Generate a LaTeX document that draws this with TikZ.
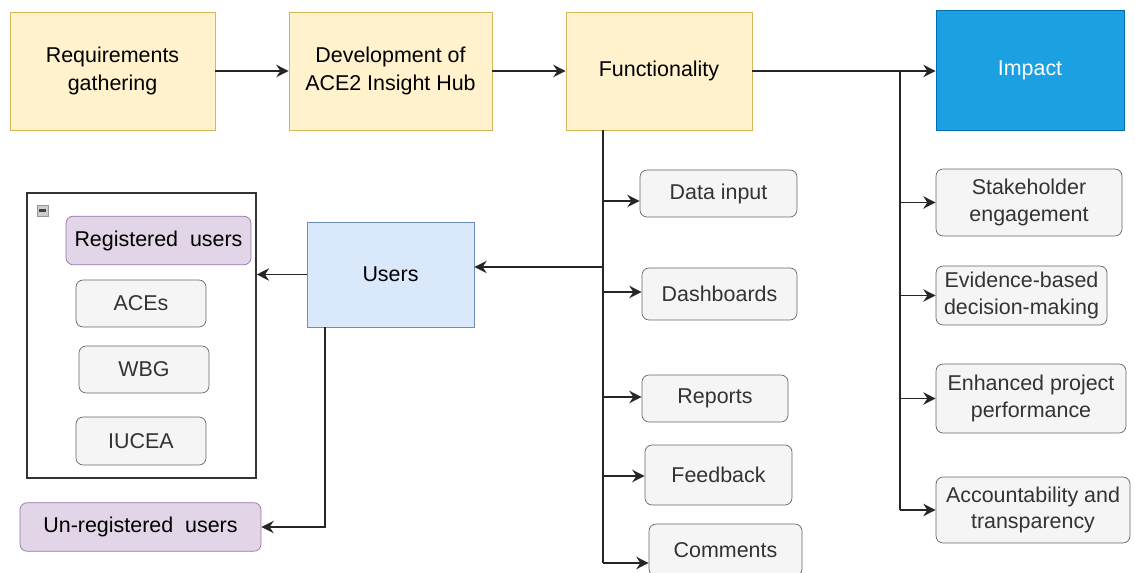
\documentclass[tikz,border=0pt]{standalone}
\usepackage{fontspec}
\setmainfont{Liberation Sans}
\usetikzlibrary{arrows.meta,positioning}

\begin{document}
\begin{tikzpicture}[x=0.02cm,y=-0.02cm,
  stage/.style={draw=stageline,fill=stagefill,minimum height=2.36cm,align=center,font=\fontsize{12.2}{15.5}\selectfont},
  item/.style={draw=itemline,fill=itemfill,rounded corners=4pt,align=center,text=itemtext,font=\fontsize{12.2}{15}\selectfont},
  who/.style={draw=wholine,fill=whofill,rounded corners=4pt,minimum height=0.97cm,font=\fontsize{12.2}{15}\selectfont},
  arr/.style={-{Stealth[length=7pt,width=7pt]},line width=1pt,draw=black!85}]
\definecolor{stagefill}{HTML}{FFF2CC}
\definecolor{stageline}{HTML}{D6B656}
\definecolor{itemfill}{HTML}{F5F5F5}
\definecolor{itemline}{HTML}{666666}
\definecolor{itemtext}{HTML}{333333}
\definecolor{whofill}{HTML}{E1D5E7}
\definecolor{wholine}{HTML}{9673A6}
\definecolor{usersfill}{HTML}{DAE8FC}
\definecolor{usersline}{HTML}{6C8EBF}
\definecolor{impactfill}{HTML}{1BA1E2}
\definecolor{impactline}{HTML}{006EAF}
\useasboundingbox (0,0) rectangle (1135,573);

% top row
\node [stage,minimum width=4.1cm] (req) at (112.5,71) {Requirements\\gathering};
\node [stage,minimum width=4.06cm] (dev) at (390.5,71) {Development of\\ACE2 Insight Hub};
\node [stage,minimum width=3.72cm] (func) at (659,71) {Functionality};
\node [draw=impactline,fill=impactfill,text=white,minimum width=3.76cm,minimum height=2.4cm,
  font=\fontsize{12.2}{15}\selectfont] (impact) at (1030,70) {Impact};
\draw [arr] (req) -- (dev);
\draw [arr] (dev) -- (func);
\draw [arr] (func.east) -- (impact.west |- func.east);

% functionality branches
\coordinate (fbus) at (603,130);
\foreach \nm/\txt/\w/\h/\cx/\cy/\by in {data/Data input/3.14/0.94/718.5/193.5/201,
    dash/Dashboards/3.1/1.04/719.5/294/292,
    rep/Reports/2.92/0.94/715/398.5/397,
    feed/Feedback/2.94/1.2/718.5/475/476,
    comm/Comments/3.06/1.04/725.5/550/563}
  {\node [item,minimum width=\w cm,minimum height=\h cm] (\nm) at (\cx,\cy) {\txt};
   \draw [arr] (fbus |- 0,\by) -- (\nm.west |- 0,\by);}
\draw [line width=1pt,black!85] (fbus) -- (fbus |- 0,563);

% impact branches
\coordinate (ibus) at (900,71);
\foreach \nm/\txt/\w/\h/\cx/\cy in {stake/Stakeholder\\engagement/3.72/1.34/1029/202.5,
    evid/Evidence-based\\decision-making/3.42/1.18/1021.5/295.5,
    enh/Enhanced project\\performance/3.8/1.38/1031/398.5,
    acc/Accountability and\\transparency/3.88/1.32/1033/510}
  {\node [item,minimum width=\w cm,minimum height=\h cm,inner sep=1pt] (\nm) at (\cx,\cy) {\txt};
   \draw [arr] (ibus |- \nm.west) -- (\nm.west);}
\draw [line width=1pt,black!85] (ibus) -- (ibus |- acc.west);

% users
\node [draw=usersline,fill=usersfill,minimum width=3.34cm,minimum height=2.1cm,
  font=\fontsize{12.2}{15}\selectfont] (users) at (390.5,274.5) {Users};
\coordinate (ujoin) at (603,267);
\draw [arr] (ujoin) -- (users.east |- ujoin);

\node [draw=black!80,line width=0.9pt,fill=white,minimum width=4.58cm,minimum height=5.7cm] (grp) at (141.5,335.5) {};
\draw [fill=gray!40,draw=gray!80] (37,205) rectangle (48,216);
\draw [line width=1.2pt,black!75] (39,210.5) -- (46,210.5);
\node [who,minimum width=3.7cm] (reg) at (158.5,240.5) {Registered~ users};
\node [item,minimum width=2.6cm,minimum height=0.94cm] (aces) at (141,303.5) {ACEs};
\node [item,minimum width=2.6cm,minimum height=0.94cm] (wbg) at (144,369.5) {WBG};
\node [item,minimum width=2.6cm,minimum height=0.96cm] (iucea) at (141,441) {IUCEA};
\node [who,minimum width=4.82cm] (unreg) at (140.5,527) {Un-registered~ users};

\draw [arr] (users.west) -- (grp.east |- users.west);
\draw [arr] (users.south west) ++(18,0) |- (unreg.east);
\end{tikzpicture}
\end{document}
